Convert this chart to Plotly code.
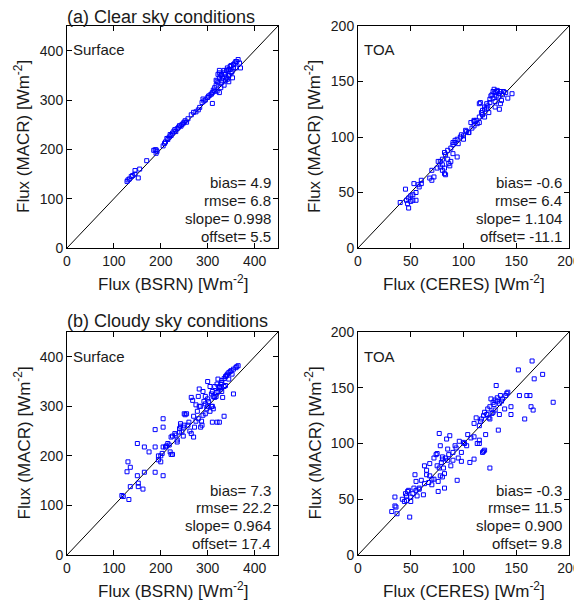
import plotly.graph_objects as go

# ---------------- data ----------------
clear_sfc_x = [128,130,133,137,140,145,152,155,145,170,185,188,190,192,190,205,208,210,213,215,218,220,222,225,228,230,232,235,238,240,243,245,248,250,252,255,258,265,270,275,280,283,288,290,292,295,300,302,305,308,310,310,312,315,318,320,322,318,325,325,328,330,330,332,335,335,338,340,340,342,345,345,348,350,350,352,355,355,358,360,362,365,368,370,345,335,360,325,320,330,328,315,338,342,348,353,325,322,345]
clear_sfc_y = [135,138,140,145,147,150,142,160,157,177,198,199,199,196,192,207,212,215,222,220,225,230,228,233,237,240,236,242,245,248,247,250,253,255,258,255,262,270,275,276,280,285,295,302,298,300,305,308,310,312,315,293,320,325,330,338,335,340,345,355,350,352,340,345,360,355,352,360,345,365,362,350,368,370,355,358,372,365,375,378,378,382,375,365,337,330,365,315,318,335,325,318,340,342,362,345,360,352,350]

clear_toa_x = [40,45,46,47,48,48,50,52,52,53,55,55,50,58,60,60,57,68,70,70,72,75,76,78,78,80,80,80,82,82,83,82,83,85,85,86,87,88,88,90,90,90,92,92,94,94,95,97,98,100,100,102,103,105,107,108,110,110,112,113,115,115,117,118,118,120,120,122,122,123,124,125,125,126,127,128,128,129,130,130,131,132,133,134,134,135,135,136,137,138,140,142,146,116,130,132,115,120,105,110]
clear_toa_y = [41,53,43,40,36,45,42,48,43,58,50,43,47,55,58,61,57,63,70,61,64,72,78,78,73,70,75,80,67,72,66,86,84,88,80,76,74,78,90,85,93,95,97,95,98,82,94,100,102,101,98,106,105,104,113,108,115,110,115,112,118,113,122,120,124,125,127,126,130,128,122,131,134,137,138,141,135,143,140,132,137,142,136,139,125,141,130,133,138,141,140,135,139,131,127,141,130,118,104,114]

cloudy_sfc_x = [117,120,132,130,128,135,135,150,150,152,152,162,165,165,175,188,188,188,195,195,200,200,203,205,205,205,205,210,212,215,218,220,222,225,222,225,230,232,235,235,240,240,242,242,245,248,248,250,252,250,255,258,260,262,265,265,268,270,270,272,275,275,278,280,280,282,282,285,285,287,288,290,290,292,295,295,298,300,300,302,305,305,308,310,310,310,312,315,315,318,320,320,322,322,325,325,325,328,330,330,330,332,335,335,335,338,340,342,345,345,348,350,352,355,355,360,362,365,318,308,295,300,312,328,338]
cloudy_sfc_y = [120,118,112,188,168,177,138,225,160,145,138,133,218,167,208,218,253,167,200,192,200,188,205,218,275,258,160,218,220,225,222,208,203,203,238,240,245,242,232,228,255,248,265,260,248,240,258,262,283,285,285,262,268,250,245,318,312,280,238,258,270,303,290,275,320,335,300,300,258,270,262,282,330,310,285,320,295,350,300,310,340,290,325,330,268,300,295,340,318,328,345,268,330,355,338,340,268,345,348,352,330,318,356,340,280,360,362,365,368,355,370,372,365,375,325,378,380,382,320,300,305,315,320,335,342]

cloudy_toa_x = [32,35,36,35,37,42,44,45,46,46,47,48,49,50,52,53,54,55,55,56,58,60,62,63,65,67,68,68,70,70,72,72,74,75,75,76,76,77,77,78,78,79,80,80,81,82,82,83,84,85,86,87,88,90,90,92,93,94,95,96,98,98,100,101,104,106,107,110,110,110,112,113,115,115,116,117,118,119,120,119,120,121,122,123,124,125,125,126,127,128,129,130,130,131,132,133,134,134,135,136,137,139,140,141,142,145,145,152,153,158,160,163,164,165,167,166,175,185,128,125,132,115,103,85,80,65,63,58,50]
cloudy_toa_y = [39,44,43,52,37,50,48,55,49,53,57,58,34,52,55,60,72,58,66,53,60,67,54,80,72,65,82,71,68,63,68,87,90,80,91,57,66,78,109,98,71,83,70,86,78,73,60,87,104,85,90,107,80,92,85,98,96,67,87,102,84,92,101,100,108,83,105,106,86,118,123,100,116,103,120,122,92,93,94,125,128,108,126,131,123,78,133,140,127,137,135,139,130,152,141,112,126,136,143,138,140,131,143,145,146,126,133,166,143,122,143,143,133,174,158,130,162,137,128,122,138,100,98,95,88,76,64,59,48]

panels = [
    dict(x=clear_sfc_x, y=clear_sfc_y, rng=450, dt=100, label="Surface", xt="Flux (BSRN) [Wm<sup>-2</sup>]",
         stats=["bias= 4.9", "rmse= 6.8", "slope= 0.998", "offset= 5.5"]),
    dict(x=clear_toa_x, y=clear_toa_y, rng=200, dt=50, label="TOA", xt="Flux (CERES) [Wm<sup>-2</sup>]",
         stats=["bias= -0.6", "rmse= 6.4", "slope= 1.104", "offset= -11.1"]),
    dict(x=cloudy_sfc_x, y=cloudy_sfc_y, rng=450, dt=100, label="Surface", xt="Flux (BSRN) [Wm<sup>-2</sup>]",
         stats=["bias= 7.3", "rmse= 22.2", "slope= 0.964", "offset= 17.4"]),
    dict(x=cloudy_toa_x, y=cloudy_toa_y, rng=200, dt=50, label="TOA", xt="Flux (CERES) [Wm<sup>-2</sup>]",
         stats=["bias= -0.3", "rmse= 11.5", "slope= 0.900", "offset= 9.8"]),
]
section_titles = ["(a) Clear sky conditions", "(b) Cloudy sky conditions"]
ytitle = "Flux (MACR) [Wm<sup>-2</sup>]"

# ---------------- layout geometry (pixels, page coords; page has an 8px body margin) ----------------
OFF = 8
W, H = 582 - OFF, 605 - OFF
px_x = [(67, 278), (358, 569), (67, 278), (358, 569)]
px_y = [(26, 248), (26, 248), (332, 555), (332, 555)]

FONT = "Liberation Sans, Arial, sans-serif"
TXT = "#1a1a1a"


def fx(px):
    return (px - OFF) / W


def fy(py):
    return 1 - (py - OFF) / H


fig = go.Figure()
layout = dict(width=W, height=H, margin=dict(l=0, r=0, t=0, b=0, autoexpand=False),
              paper_bgcolor="white", plot_bgcolor="white", showlegend=False,
              font=dict(family=FONT, color=TXT))
annotations = []

for i, p in enumerate(panels):
    k = "" if i == 0 else str(i + 1)
    xa, ya = "x" + k, "y" + k
    x0, x1 = px_x[i]
    y0, y1 = px_y[i]
    ax = dict(range=[0, p["rng"]], dtick=p["dt"], tick0=0, showgrid=False, zeroline=False,
              showline=True, linecolor="black", linewidth=1, mirror="ticks",
              ticks="inside", ticklen=5, tickcolor="black", tickwidth=1, automargin=False,
              tickfont=dict(family=FONT, size=14, color=TXT))
    layout["xaxis" + k] = dict(ax, domain=[fx(x0), fx(x1)], anchor=ya)
    layout["yaxis" + k] = dict(ax, domain=[fy(y1), fy(y0)], anchor=xa)

    fig.add_trace(go.Scatter(x=[0, p["rng"]], y=[0, p["rng"]], mode="lines",
                             line=dict(color="black", width=1), xaxis=xa, yaxis=ya, hoverinfo="skip"))
    fig.add_trace(go.Scatter(x=p["x"], y=p["y"], mode="markers", xaxis=xa, yaxis=ya,
                             marker=dict(symbol="square-open", size=4, color="#0000ff",
                                         line=dict(color="#0000ff", width=1))))

    annotations.append(dict(text=p["label"], x=fx(x0 + 4), y=fy(y0 + 24),
                            xref="paper", yref="paper", xanchor="left", yanchor="middle",
                            showarrow=False, font=dict(size=15, family=FONT, color=TXT)))
    for j, s in enumerate(p["stats"]):
        annotations.append(dict(text=s, x=fx(x1 - 5), y=fy(y1 - 65 + j * 17.7),
                                xref="paper", yref="paper", xanchor="right", yanchor="middle",
                                showarrow=False, font=dict(size=15, family=FONT, color=TXT)))
    annotations.append(dict(text=p["xt"], x=fx((x0 + x1) / 2), y=fy(y1 + 35),
                            xref="paper", yref="paper", xanchor="center", yanchor="middle",
                            showarrow=False, font=dict(size=17, family=FONT, color=TXT)))
    annotations.append(dict(text=ytitle, x=fx(x0 - 45), y=fy((y0 + y1) / 2),
                            xref="paper", yref="paper", xanchor="center", yanchor="middle",
                            textangle=-90, showarrow=False, font=dict(size=17, family=FONT, color=TXT)))

for t, yc in zip(section_titles, [17, 321]):
    annotations.append(dict(text=t, x=fx(65), y=fy(yc), xref="paper", yref="paper",
                            xanchor="left", yanchor="middle", showarrow=False,
                            font=dict(size=18, family=FONT, color=TXT)))

layout["annotations"] = annotations
fig.update_layout(**layout)
fig.write_html("out.html")
